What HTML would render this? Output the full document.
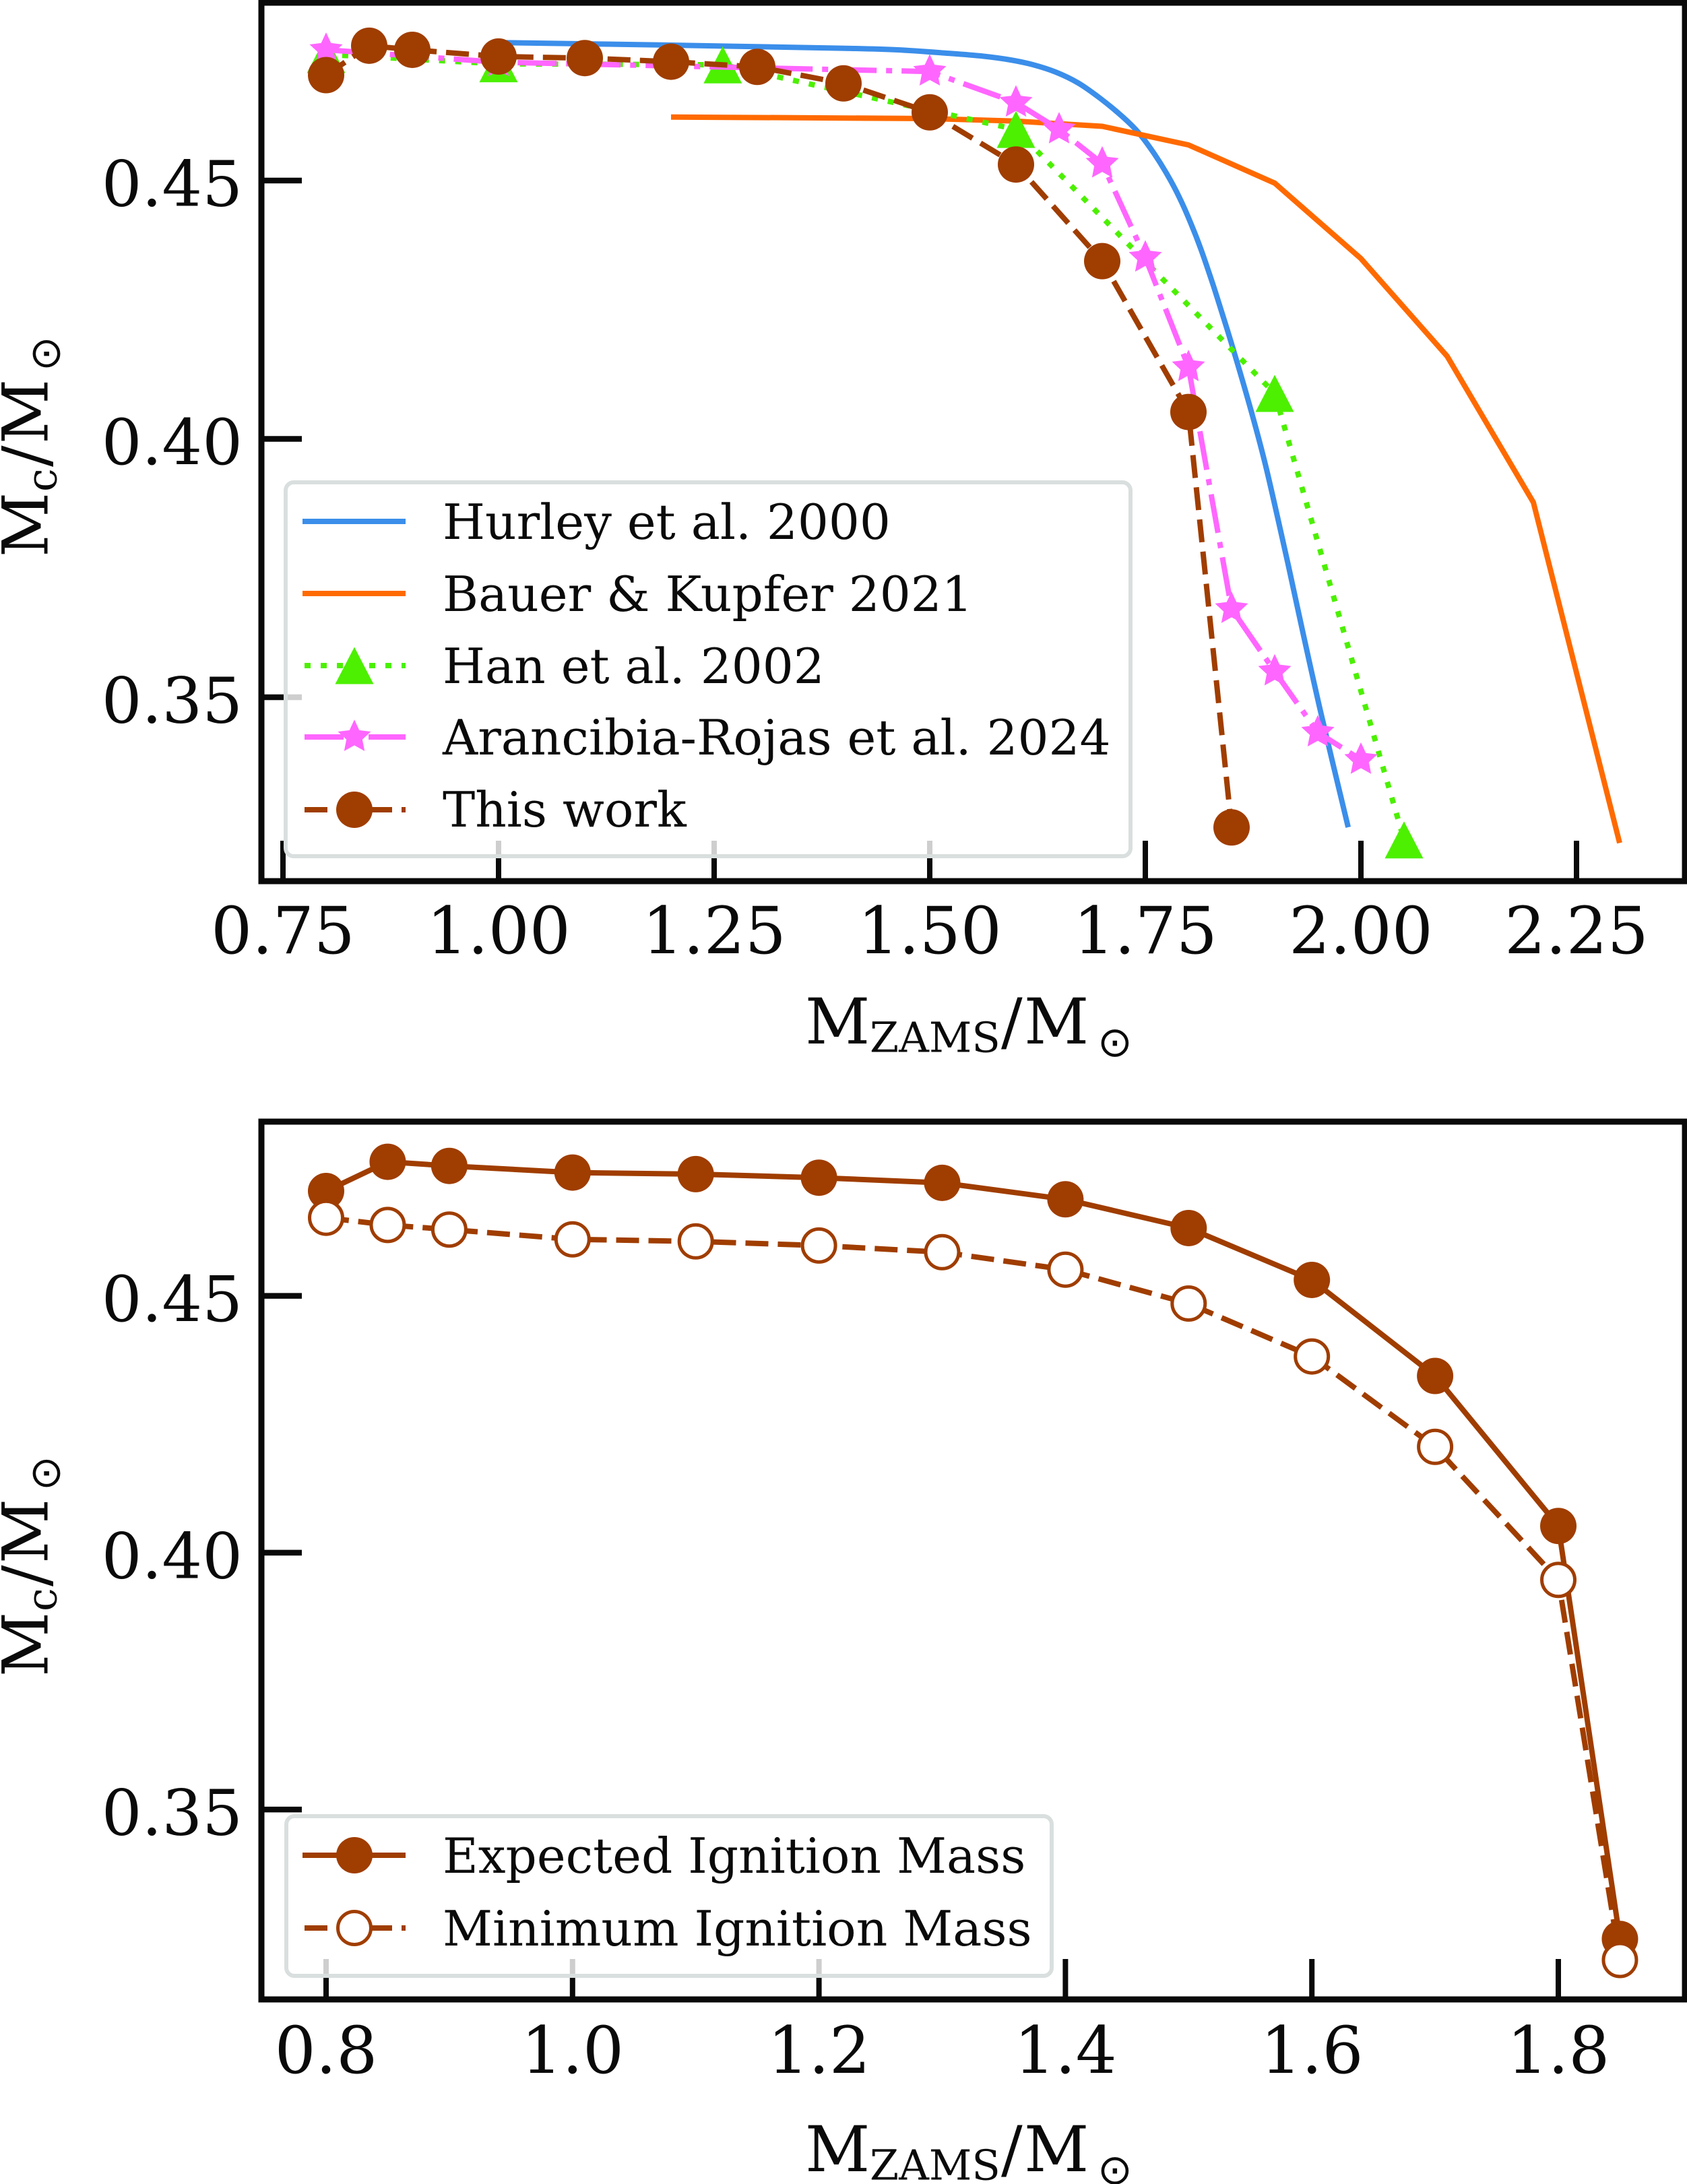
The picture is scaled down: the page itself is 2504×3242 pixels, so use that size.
<!DOCTYPE html>
<html lang="en">
<head>
<meta charset="utf-8">
<title>Core mass at helium ignition versus ZAMS mass</title>
<style>
html,body{margin:0;padding:0;background:#fff;}
svg{display:block;}
text{font-family:"DejaVu Serif","Liberation Serif",serif;fill:#0a0a0a;}
.sym{font-family:"DejaVu Sans","Liberation Sans",sans-serif;}
.tick-x{font-size:96px;}
.tick-y{font-size:94px;}
.lab{font-size:94px;}
.sub{font-size:62px;}
.leg{font-size:72.3px;}
</style>
</head>
<body>
<svg id="chart" xmlns="http://www.w3.org/2000/svg" width="2504" height="3242" viewBox="0 0 2504 3242">
  <rect x="0" y="0" width="2504" height="3242" fill="#ffffff"/>

  <g id="top-panel"></g>
  <g id="bottom-panel"></g>

  <!-- top axis labels -->
  <g>
    <text class="lab" x="1195" y="1549">M</text>
    <text class="sub" x="1291" y="1561.5">ZAMS</text>
    <text class="lab" x="1486" y="1549">/</text>
    <text class="lab" x="1520" y="1549">M</text>
    <text class="sym" x="1655" y="1568" font-size="62" text-anchor="middle">⊙</text>
  </g>
  <g transform="translate(70.5,827) rotate(-90)">
    <text class="lab" x="0" y="0">M</text>
    <text class="sub" x="97" y="13">c</text>
    <text class="lab" x="134" y="0">/</text>
    <text class="lab" x="168" y="0">M</text>
    <text class="sym" x="302" y="18" font-size="62" text-anchor="middle">⊙</text>
  </g>

  <!-- bottom axis labels -->
  <g>
    <text class="lab" x="1195" y="3223">M</text>
    <text class="sub" x="1291" y="3235.5">ZAMS</text>
    <text class="lab" x="1486" y="3223">/</text>
    <text class="lab" x="1520" y="3223">M</text>
    <text class="sym" x="1655" y="3242" font-size="62" text-anchor="middle">⊙</text>
  </g>
  <g transform="translate(70.5,2489) rotate(-90)">
    <text class="lab" x="0" y="0">M</text>
    <text class="sub" x="97" y="13">c</text>
    <text class="lab" x="134" y="0">/</text>
    <text class="lab" x="168" y="0">M</text>
    <text class="sym" x="302" y="18" font-size="62" text-anchor="middle">⊙</text>
  </g>

  <!-- top legend -->
  <g>
    <rect x="424" y="716" width="1254" height="555" rx="12" ry="12" fill="rgba(255,255,255,0.8)" stroke="#d9dfde" stroke-width="6"/>
    <g id="top-legend-handles"></g>
    <text class="leg" x="657" y="800">Hurley et al. 2000</text>
    <text class="leg" x="657" y="907">Bauer &amp; Kupfer 2021</text>
    <text class="leg" x="657" y="1014">Han et al. 2002</text>
    <text class="leg" x="657" y="1120">Arancibia-Rojas et al. 2024</text>
    <text class="leg" x="657" y="1227">This work</text>
  </g>

  <!-- bottom legend -->
  <g>
    <rect x="425" y="2696" width="1136" height="237" rx="12" ry="12" fill="rgba(255,255,255,0.8)" stroke="#d9dfde" stroke-width="6"/>
    <g id="bottom-legend-handles"></g>
    <text class="leg" x="657" y="2780">Expected Ignition Mass</text>
    <text class="leg" x="657" y="2888">Minimum Ignition Mass</text>
  </g>
</svg>

<script>
/* ---------- chart data ---------- */
const hurleyX = [1.0,1.2008,1.3984,1.4609,1.5234,1.5625,1.5938,1.6195,1.6461,1.6719,1.6977,1.7242,1.7422,1.7602,1.7758,1.7891,1.8023,1.8148,1.8281,1.8398,1.8516,1.8727,1.8906,1.9156,1.9336,1.9539,1.9852];
const hurleyY = [0.4767,0.4762,0.4756,0.4753,0.4746,0.47405,0.47334,0.47243,0.47099,0.4689,0.46591,0.46226,0.45926,0.45522,0.45104,0.44687,0.44192,0.43657,0.43005,0.42392,0.41754,0.40541,0.39407,0.37568,0.36186,0.34674,0.32484];
const bauerX = [1.2,1.4,1.5,1.6,1.7,1.8,1.9,2.0,2.1,2.2,2.3];
const bauerY = [0.4623,0.4621,0.4620,0.4615,0.4605,0.4569,0.4495,0.4349,0.4160,0.3877,0.3218];
const hanX = [0.8,1.0,1.26,1.6,1.9,2.05];
const hanY = [0.4744,0.4726,0.4724,0.4599,0.4088,0.3224];
const arancibiaX = [0.8,1.0,1.5,1.6,1.65,1.7,1.75,1.8,1.85,1.9,1.95,2.0];
const arancibiaY = [0.4753,0.4729,0.4711,0.4651,0.4599,0.4533,0.4351,0.4139,0.3671,0.3550,0.3432,0.3379];
const thisWorkX = [0.8,0.85,0.9,1.0,1.1,1.2,1.3,1.4,1.5,1.6,1.7,1.8,1.85];
const thisWorkY = [0.4704,0.4761,0.4753,0.4740,0.4737,0.4730,0.4720,0.4688,0.4632,0.4531,0.4344,0.4052,0.3248];
const minimumY = [0.4652,0.4638,0.4629,0.4610,0.4606,0.4598,0.4585,0.4551,0.4485,0.4382,0.4206,0.3947,0.3207];

const topXTicks = [0.75,1.00,1.25,1.50,1.75,2.00,2.25];
const topXTickLabels = ["0.75","1.00","1.25","1.50","1.75","2.00","2.25"];
const bottomXTicks = [0.8,1.0,1.2,1.4,1.6,1.8];
const bottomXTickLabels = ["0.8","1.0","1.2","1.4","1.6","1.8"];
const yTicks = [0.45,0.40,0.35];
const yTickLabels = ["0.45","0.40","0.35"];

/* ---------- axis functions ---------- */
const topXScale = v => 420 + (v - 0.75) * 1280;
const topYScale = v => 268 + (0.45 - v) * 7670;
const bottomXScale = v => 484 + (v - 0.8) * 1829;
const bottomYScale = v => 1923.6 + (0.45 - v) * 7625;

/* ---------- styling ---------- */
const BLUE = "#3b8eea", ORANGE = "#ff6a00", GREEN = "#4cf000", PINK = "#ff66ff", BROWN = "#a03d00", INK = "#0a0a0a";
const DOTTED = "9 15", DASHDOT = "58 14 9 14", DASHED = "34 14";
const NS = "http://www.w3.org/2000/svg";

function make(tag, attrs, parent) {
  const el = document.createElementNS(NS, tag);
  for (const k in attrs) el.setAttribute(k, attrs[k]);
  parent.appendChild(el);
  return el;
}
function drawLine(parent, xs, ys, sx, sy, color, dash) {
  const pts = xs.map((x, i) => sx(x).toFixed(1) + "," + sy(ys[i]).toFixed(1)).join(" ");
  const attrs = {points: pts, fill: "none", stroke: color, "stroke-width": 8, "stroke-linejoin": "round"};
  if (dash) attrs["stroke-dasharray"] = dash;
  return make("polyline", attrs, parent);
}
/* smooth curve through the data points (Catmull-Rom spline converted to cubic beziers) */
function drawSmoothLine(parent, xs, ys, sx, sy, color) {
  const p = xs.map((x, i) => [sx(x), sy(ys[i])]);
  let d = "M" + p[0][0].toFixed(1) + " " + p[0][1].toFixed(1);
  for (let i = 0; i < p.length - 1; i++) {
    const a = p[Math.max(i - 1, 0)], b = p[i], c = p[i + 1], e = p[Math.min(i + 2, p.length - 1)];
    const c1x = b[0] + (c[0] - a[0]) / 6, c1y = b[1] + (c[1] - a[1]) / 6;
    const c2x = c[0] - (e[0] - b[0]) / 6, c2y = c[1] - (e[1] - b[1]) / 6;
    d += "C" + c1x.toFixed(1) + " " + c1y.toFixed(1) + " " + c2x.toFixed(1) + " " + c2y.toFixed(1) + " " + c[0].toFixed(1) + " " + c[1].toFixed(1);
  }
  return make("path", {d: d, fill: "none", stroke: color, "stroke-width": 8}, parent);
}
function circle(parent, cx, cy, color, hollow) {
  if (hollow) return make("circle", {cx: cx, cy: cy, r: 24.5, fill: "#ffffff", stroke: color, "stroke-width": 5}, parent);
  return make("circle", {cx: cx, cy: cy, r: 27, fill: color}, parent);
}
function triangle(parent, cx, cy, color) {
  const pts = [[cx, cy - 27.5], [cx - 28.5, cy + 27.5], [cx + 28.5, cy + 27.5]].map(p => p.join(",")).join(" ");
  return make("polygon", {points: pts, fill: color}, parent);
}
function star(parent, cx, cy, color) {
  const pts = [];
  for (let i = 0; i < 10; i++) {
    const r = i % 2 ? 12.4 : 25.8;
    const a = -Math.PI / 2 + i * Math.PI / 5;
    pts.push((cx + r * Math.cos(a)).toFixed(1) + "," + (cy + r * Math.sin(a)).toFixed(1));
  }
  return make("polygon", {points: pts.join(" "), fill: color}, parent);
}
function spine(parent, x1, y1, x2, y2, w) {
  return make("line", {x1: x1, y1: y1, x2: x2, y2: y2, stroke: INK, "stroke-width": w}, parent);
}

/* ---------- frame and ticks ---------- */
function drawAxes(parent, prefix, left, right, top, bottom, xTicks, xLabels, sx, sy, xLabelY) {
  xTicks.forEach((v, i) => {
    const tick = spine(parent, sx(v), bottom, sx(v), bottom - 60, 8);
    
    
    const lab = make("text", {class: "tick-x", x: sx(v), y: xLabelY, "text-anchor": "middle"}, parent);
    lab.textContent = xLabels[i];
    
    
  });
  yTicks.forEach((v, i) => {
    const tick = spine(parent, left, sy(v), left + 60, sy(v), 8.5);
    
    
    const lab = make("text", {class: "tick-y", x: 360, y: sy(v) + 37.5, "text-anchor": "end"}, parent);
    lab.textContent = yTickLabels[i];
    
    
  });
  const l = spine(parent, left, top - 4.5, left, bottom + 4.5, 9);
  
  
  const r = spine(parent, right, top - 4.5, right, bottom + 4.5, 8);
  
  
  const t = spine(parent, left - 4.5, top, right + 4, top, 9);
  
  
  const b = spine(parent, left - 4.5, bottom, right + 4, bottom, 9);
  
  
}

/* ---------- top panel ---------- */
const topG = document.getElementById("top-panel");
drawAxes(topG, "top", 388, 2500.5, 4, 1308, topXTicks, topXTickLabels, topXScale, topYScale, 1415);

const hurleyLine = drawSmoothLine(topG, hurleyX, hurleyY, topXScale, topYScale, BLUE);



const bauerLine = drawLine(topG, bauerX, bauerY, topXScale, topYScale, ORANGE);



const hanLine = drawLine(topG, hanX, hanY, topXScale, topYScale, GREEN, DOTTED);


hanX.forEach((x, i) => {
  const m = triangle(topG, topXScale(x), topYScale(hanY[i]), GREEN);
  
  
});

const arancibiaLine = drawLine(topG, arancibiaX, arancibiaY, topXScale, topYScale, PINK, DASHDOT);


arancibiaX.forEach((x, i) => {
  const m = star(topG, topXScale(x), topYScale(arancibiaY[i]), PINK);
  
  
});

const thisWorkLine = drawLine(topG, thisWorkX, thisWorkY, topXScale, topYScale, BROWN, DASHED);


thisWorkX.forEach((x, i) => {
  const m = circle(topG, topXScale(x), topYScale(thisWorkY[i]), BROWN, false);
  
  
});

/* ---------- bottom panel ---------- */
const botG = document.getElementById("bottom-panel");
drawAxes(botG, "bottom", 388, 2500.5, 1665, 2968, bottomXTicks, bottomXTickLabels, bottomXScale, bottomYScale, 3077);

const expectedLine = drawLine(botG, thisWorkX, thisWorkY, bottomXScale, bottomYScale, BROWN);


thisWorkX.forEach((x, i) => {
  const m = circle(botG, bottomXScale(x), bottomYScale(thisWorkY[i]), BROWN, false);
  
  
});

const minimumLine = drawLine(botG, thisWorkX, minimumY, bottomXScale, bottomYScale, BROWN, DASHED);


thisWorkX.forEach((x, i) => {
  const m = circle(botG, bottomXScale(x), bottomYScale(minimumY[i]), BROWN, true);
  
  
});

/* ---------- legend keys ---------- */
function keyLine(parent, y, color, dash) {
  const attrs = {x1: dash ? 452 : 449, y1: y, x2: 602, y2: y, stroke: color, "stroke-width": 8};
  if (dash) attrs["stroke-dasharray"] = dash;
  return make("line", attrs, parent);
}
const topKeys = document.getElementById("top-legend-handles");
const k1 = keyLine(topKeys, 774, BLUE);


const k2 = keyLine(topKeys, 881, ORANGE);


const k3 = keyLine(topKeys, 988, GREEN, DOTTED);


const k3m = triangle(topKeys, 526, 988, GREEN);


const k4 = keyLine(topKeys, 1094, PINK, DASHDOT);


const k4m = star(topKeys, 526, 1094, PINK);


const k5 = keyLine(topKeys, 1202, BROWN, DASHED);


const k5m = circle(topKeys, 526, 1202, BROWN, false);



const botKeys = document.getElementById("bottom-legend-handles");
const k6 = keyLine(botKeys, 2754, BROWN);


const k6m = circle(botKeys, 526, 2754, BROWN, false);


const k7 = keyLine(botKeys, 2862, BROWN, DASHED);


const k7m = circle(botKeys, 526, 2862, BROWN, true);


</script>
</body>
</html>
